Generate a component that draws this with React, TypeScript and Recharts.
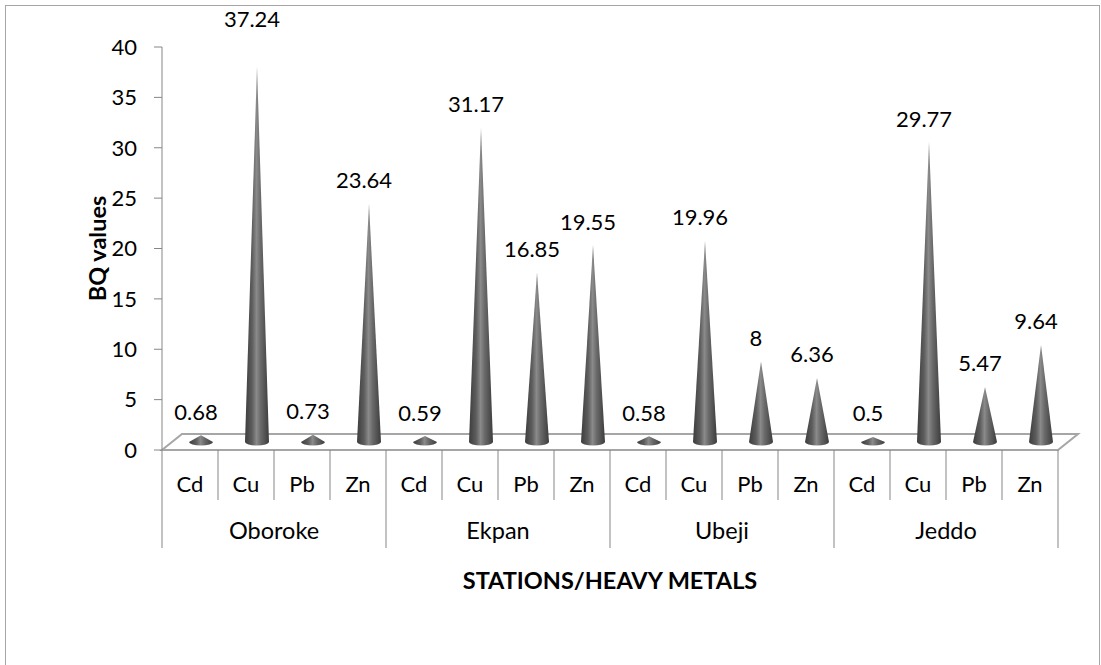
import React from "react";
import { BarChart, Bar, XAxis, YAxis, LabelList } from "recharts";

const stations = ["Oboroke", "Ekpan", "Ubeji", "Jeddo"];
const metals = ["Cd", "Cu", "Pb", "Zn"];

// BQ values per station, in metal order
const oboroke = [0.68, 37.24, 0.73, 23.64];
const ekpan = [0.59, 31.17, 16.85, 19.55];
const ubeji = [0.58, 19.96, 8, 6.36];
const jeddo = [0.5, 29.77, 5.47, 9.64];

const yTicks = [0, 5, 10, 15, 20, 25, 30, 35, 40];

const series = [oboroke, ekpan, ubeji, jeddo];
const rows = stations.flatMap((st, si) =>
  metals.map((m, mi) => ({ key: `${st}-${m}`, station: st, metal: m, value: series[si][mi] }))
);

const W = 1101;
const H = 665;
const LEFT = 162;
const RIGHT = 43;
const TOP = 47;
const BOTTOM = 215;
const BAND = (W - LEFT - RIGHT) / rows.length;
const DEPTH_X = 20;
const DEPTH_Y = 16;
const FONT = "Lato, 'Open Sans', sans-serif";
const AXIS_GRAY = "#868686";

function Cone(props: any) {
  const { x, y, width, height } = props;
  if (x == null || y == null) return null;
  const cx = x + width / 2 + DEPTH_X / 2 + 1;
  const base = y + height - DEPTH_Y / 2;
  const tip = y - DEPTH_Y / 2;
  const r = 12;
  const ry = 3.5;
  return (
    <path
      d={`M${cx - r},${base} L${cx},${tip} L${cx + r},${base} A${r},${ry} 0 0 1 ${cx - r},${base} Z`}
      fill="url(#coneGrad)"
    />
  );
}

function ConeLabel(props: any) {
  const { x, y, width, value } = props;
  // labels sit ~24px above the tip, but never above the top of the plot box
  const ly = Math.max(y - DEPTH_Y / 2 - 24, 18);
  const top = y - DEPTH_Y / 2 - 24 < TOP ? 18 : ly;
  return (
    <text
      x={x + width / 2 + 6}
      y={top}
      textAnchor="middle"
      dominantBaseline="central"
      fontFamily={FONT}
      fontSize={22}
      fill="#000"
    >
      {value}
    </text>
  );
}

function CatTick(props: any) {
  const { x, y, index } = props;
  const row = rows[index];
  if (!row) return null;
  const half = BAND / 2;
  const groupStart = index % 4 === 0;
  const last = index === rows.length - 1;
  return (
    <g>
      <text x={x} y={y + 33} textAnchor="middle" dominantBaseline="central" fontFamily={FONT} fontSize={22} fill="#000">
        {row.metal}
      </text>
      <line x1={x - half} x2={x - half} y1={y} y2={groupStart ? y + 98 : y + 50} stroke={AXIS_GRAY} strokeWidth={1} />
      {last && <line x1={x + half} x2={x + half} y1={y} y2={y + 98} stroke={AXIS_GRAY} strokeWidth={1} />}
      {index % 4 === 1 && (
        <text x={x + half} y={y + 80} textAnchor="middle" dominantBaseline="central" fontFamily={FONT} fontSize={23.5} fill="#000">
          {row.station}
        </text>
      )}
    </g>
  );
}

function YTitle() {
  const cy = TOP + (H - TOP - BOTTOM) / 2;
  return (
    <text
      x={97}
      y={cy}
      transform={`rotate(-90 97 ${cy})`}
      textAnchor="middle"
      dominantBaseline="central"
      fontFamily={FONT}
      fontWeight="bold"
      fontSize={23.5}
      fill="#000"
    >
      BQ values
    </text>
  );
}

export default function App() {
  const y0 = H - BOTTOM;
  const x1 = W - RIGHT;
  const floor = `${LEFT},${y0} ${x1},${y0} ${x1 + DEPTH_X},${y0 - DEPTH_Y} ${LEFT + DEPTH_X},${y0 - DEPTH_Y}`;
  return (
    <div style={{ position: "absolute", left: 0, top: 0, width: W, height: H, overflow: "hidden", background: "#fff" }}>
      <div style={{ position: "absolute", left: 5, top: 5, width: 1093, height: 720, border: "1px solid #a6a6a6" }} />
      <svg width={W} height={H} style={{ position: "absolute", left: 0, top: 0 }}>
        <polygon points={floor} fill="#fff" stroke="#a6a6a6" strokeWidth={2} strokeLinejoin="miter" />
      </svg>
      <div style={{ position: "absolute", left: 0, top: 0 }}>
        <BarChart width={W} height={H} data={rows} margin={{ top: TOP, right: RIGHT, left: 0, bottom: 0 }} barCategoryGap={0}>
          <defs>
            <linearGradient id="coneGrad" x1="0" y1="0" x2="1" y2="0">
              <stop offset="0%" stopColor="#3c3c3c" />
              <stop offset="30%" stopColor="#5e5e5e" />
              <stop offset="48%" stopColor="#8a8a8a" />
              <stop offset="65%" stopColor="#6a6a6a" />
              <stop offset="100%" stopColor="#3c3c3c" />
            </linearGradient>
          </defs>
          <XAxis
            dataKey="key"
            interval={0}
            height={BOTTOM}
            axisLine={false}
            tickLine={false}
            tickSize={0}
            tickMargin={0}
            tick={<CatTick />}
            label={{
              value: "STATIONS/HEAVY METALS",
              position: "insideBottom",
              offset: 76,
              fontFamily: FONT,
              fontWeight: "bold",
              fontSize: 23.5,
              fill: "#000",
            }}
          />
          <YAxis
            domain={[0, 40]}
            ticks={yTicks}
            interval={0}
            width={LEFT}
            tickSize={8}
            tickMargin={17}
            axisLine={{ stroke: AXIS_GRAY }}
            tickLine={{ stroke: AXIS_GRAY }}
            tick={{ fontFamily: FONT, fontSize: 22, fill: "#000" }}
            label={<YTitle />}
          />
          <Bar dataKey="value" shape={<Cone />} isAnimationActive={false}>
            <LabelList dataKey="value" content={<ConeLabel />} />
          </Bar>
        </BarChart>
      </div>
    </div>
  );
}
